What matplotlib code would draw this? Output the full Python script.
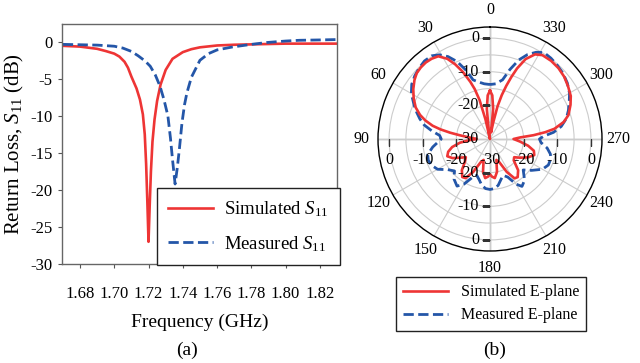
import numpy as np
import matplotlib
matplotlib.use('Agg')
import matplotlib.pyplot as plt

# ---------------- data: (a) return loss ----------------
freq_sim = [1.670, 1.680, 1.690, 1.695, 1.700, 1.703, 1.706, 1.708, 1.710, 1.713,
            1.715, 1.7167, 1.7178, 1.7186, 1.7193, 1.7200, 1.7207, 1.7214, 1.7223,
            1.7235, 1.7250, 1.7270, 1.7300, 1.7340, 1.7400, 1.745, 1.750, 1.760,
            1.770, 1.780, 1.790, 1.800, 1.810, 1.820, 1.830]
s11_sim = [-0.55, -0.65, -0.95, -1.25, -1.6, -2.0, -2.7, -3.5, -4.7, -6.3,
           -7.8, -9.8, -12.5, -16.5, -21.5, -27.0, -22.0, -17.5, -13.5,
           -10.5, -8.0, -5.8, -3.8, -2.3, -1.4, -1.0, -0.75, -0.5,
           -0.4, -0.35, -0.3, -0.25, -0.25, -0.25, -0.25]

freq_meas = [1.670, 1.680, 1.690, 1.700, 1.705, 1.710, 1.714, 1.718, 1.721, 1.724,
             1.7267, 1.729, 1.7313, 1.7328, 1.734, 1.7355, 1.7368, 1.738, 1.7395,
             1.741, 1.7424, 1.745, 1.750, 1.755, 1.760, 1.769, 1.780, 1.789,
             1.800, 1.808, 1.820, 1.830]
s11_meas = [-0.35, -0.4, -0.45, -0.6, -0.85, -1.3, -1.9, -2.6, -3.3, -4.5,
            -6.0, -7.8, -10.0, -13.0, -15.9, -19.2, -17.0, -14.5, -11.0,
            -8.5, -6.9, -4.8, -2.5, -1.6, -1.1, -0.7, -0.35, -0.1,
            0.1, 0.2, 0.25, 0.3]

x_ticks = [1.68, 1.70, 1.72, 1.74, 1.76, 1.78, 1.80, 1.82]
y_ticks = [0, -5, -10, -15, -20, -25, -30]

# ---------------- data: (b) E-plane pattern ----------------
theta_sim = [0, 3, 6, 9, 11, 13, 15, 17, 19, 22, 25, 28, 32, 36, 40, 44, 48, 52, 57,
             62, 67, 71, 74, 77, 79, 81, 83, 86, 90, 93, 97, 102, 107, 112, 117, 122,
             127, 132, 138, 144, 148, 153, 158, 163, 168, 173, 177, 180, 183, 187,
             192, 197, 202, 207, 212, 216, 222, 228, 233, 238, 244, 250, 255, 260,
             265, 270, 273, 275, 277, 279, 283, 287, 293, 298, 304, 310, 316, 322,
             328, 332, 336, 339, 341, 343, 345, 347, 349, 351, 354, 357, 360]
e_sim = [-15.6, -17, -21, -28, -30, -24, -18, -14.5, -12, -8.5, -5.5, -3, -1.0, -0.5,
         -0.3, -0.4, -0.7, -1.5, -2.8, -4.3, -6, -8, -10, -12.5, -15, -18, -21, -24,
         -26, -24, -21, -18.5, -17, -16.3, -17.5, -19.5, -21, -20, -17.5, -16,
         -16.3, -19, -22.5, -23.5, -20, -18.3, -18.8, -19.5, -18.8, -18.3, -20,
         -23.5, -22.5, -19, -16.2, -16, -17.5, -20.5, -21, -19.5, -17.5, -16,
         -16.5, -18.5, -21, -23, -21, -17, -13.5, -10.6, -7.5, -5.6, -4.0, -2.8,
         -2.0, -1.2, -0.7, -0.5, -0.6, -1.5, -4.0, -7.5, -10.5, -13.5, -16.5,
         -20, -25, -28, -21, -17, -15.6]

theta_meas = [0, 6, 12, 16, 19, 23, 27, 31, 35, 40, 45, 50, 55, 60, 66, 70, 74, 78,
              82, 86, 90, 94, 98, 104, 109, 114, 120, 126, 132, 138, 145, 150, 155,
              160, 165, 170, 175, 180, 185, 190, 195, 200, 205, 210, 214, 220, 227,
              233, 240, 246, 252, 256, 261, 266, 270, 273, 276, 280, 285, 290, 295,
              300, 306, 312, 318, 323, 328, 332, 336, 340, 344, 348, 354, 360]
e_meas = [-13.8, -13.5, -12.6, -11.7, -8.5, -5, -2.5, -0.8, 0.2, 0.3, -0.2, -0.8,
          -1.6, -3.0, -5.3, -6.8, -8.3, -10, -12.5, -15, -15.5, -14.3, -12.8, -10.9,
          -10.6, -10.9, -12, -14.5, -15.8, -14, -12.9, -14.5, -17.3, -18.5, -17.5,
          -16, -15.2, -15, -15.2, -16, -17.5, -18.5, -17.5, -14.5, -13, -14, -16.5,
          -14.5, -12, -11, -11, -11.5, -12.8, -14.8, -15.3, -14, -11, -8.5, -6.5,
          -5.2, -4, -2.7, -1.6, -0.8, -0.3, 0.1, 0.3, -0.8, -2.5, -5, -8.5, -12,
          -13.5, -13.8]

theta_labels = ['0', '30', '60', '90', '120', '150', '180', '210', '240', '270', '300', '330']
r_label_vals = [0, -10, -20, -30]

# ---------------- style ----------------
plt.rcParams['font.family'] = ['Liberation Serif', 'DejaVu Serif']
plt.rcParams['mathtext.fontset'] = 'custom'
plt.rcParams['mathtext.rm'] = 'Liberation Serif'
plt.rcParams['mathtext.it'] = 'Liberation Serif:italic'
plt.rcParams['axes.unicode_minus'] = False

RED = '#EE3535'
BLUE = '#2456A8'

fig = plt.figure(figsize=(6.4, 3.63), dpi=100)

# ---------------- (a) ----------------
ax = fig.add_axes([62/640, 1-264/363, (337-62)/640, (264-24)/363])
ax.plot(freq_sim, s11_sim, color=RED, lw=1.9, label=r'Simulated $\mathit{S}_{\mathit{11}}$')
ax.plot(freq_meas, s11_meas, color=BLUE, lw=2.0, ls='--', label=r'Measured $\mathit{S}_{\mathit{11}}$')
ax.set_xlim(1.6695, 1.83)
ax.set_ylim(-30, 2.4)
ax.set_xticks(x_ticks)
ax.set_xticklabels([f'{v:.2f}' for v in x_ticks])
ax.set_yticks(y_ticks)
ax.set_yticklabels([str(v) for v in y_ticks])
ax.tick_params(axis='x', length=3, pad=13, labelsize=12, color='#555555')
ax.tick_params(axis='y', length=3, pad=4, labelsize=12, color='#555555')
for s in ax.spines.values():
    s.set_color('#666666')
    s.set_linewidth(1.0)
ax.set_xlabel('Frequency (GHz)', fontsize=14, labelpad=8)
ax.set_ylabel(r'Return Loss, $\mathit{S}_{\mathit{11}}$ (dB)', fontsize=15, labelpad=3)
leg = fig.legend(loc='lower right', bbox_to_anchor=(340/640, 1-265/363), fontsize=13.5,
                 frameon=True, fancybox=False, edgecolor='#222222', framealpha=1,
                 handlelength=2.4, borderaxespad=0, borderpad=0.6, labelspacing=0.8,
                 handletextpad=0.6)
leg.get_frame().set_linewidth(1.0)

# ---------------- (b) ----------------
rmax = 3.3
cy = 139
pax = fig.add_axes([(490-112)/640, 1-(cy+112)/363, 224/640, 224/363], projection='polar')
pax.set_theta_zero_location('N')
pax.set_theta_direction(1)
pax.set_rlim(-30, rmax)
pax.set_yticks([-25, -20, -15, -10, -5, 0])
pax.set_yticklabels([])
pax.tick_params(axis='y', length=0)
pax.set_xticks(np.deg2rad(np.arange(0, 360, 30)))
pax.set_xticklabels(theta_labels, fontsize=11.5)
pax.tick_params(axis='x', pad=2, direction='inout', length=6, color='black')
pax.grid(True, color='#cccccc', lw=0.8)
pax.spines['polar'].set_color('black')
pax.spines['polar'].set_linewidth(1.0)

# main axes lines
for ang in [0, 90, 180, 270]:
    pax.plot([np.deg2rad(ang)] * 2, [-30, rmax], color='#999999', lw=1.0, zorder=1)

l_sim, = pax.plot(np.deg2rad(theta_sim), e_sim, color=RED, lw=1.9,
                  label='Simulated E-plane', zorder=4)
l_meas, = pax.plot(np.deg2rad(theta_meas), e_meas, color=BLUE, lw=2.0, ls='--',
                   label='Measured E-plane', zorder=3)

# radial labels and tick marks
fs_r = 11.5
for v in r_label_vals:
    pax.annotate(str(v), xy=(0, v), xytext=(-8, 0), textcoords='offset points',
                 ha='right', va='center', fontsize=fs_r, zorder=5)
    if v != -30:
        for ang in (90, 270):
            pax.annotate(str(v), xy=(np.deg2rad(ang), v), xytext=(0, -15),
                         textcoords='offset points', ha='center', va='center',
                         fontsize=fs_r, zorder=5)
        pax.annotate(str(v), xy=(np.pi, v), xytext=(-8, 0), textcoords='offset points',
                     ha='right', va='center', fontsize=fs_r, zorder=5)
        pax.plot([0], [v], marker=0, ms=6, color='#333333', mew=1, zorder=5)
        pax.plot([np.pi], [v], marker=0, ms=6, color='#333333', mew=1, zorder=5)
        pax.plot([np.pi / 2, 3 * np.pi / 2], [v, v], ls='none', marker=3, ms=5,
                 color='#333333', mew=1, zorder=5)
    else:
        pax.annotate(str(v), xy=(np.pi / 2, v), xytext=(0, -15),
                     textcoords='offset points', ha='center', va='center',
                     fontsize=fs_r, zorder=5)

leg2 = fig.legend(handles=[l_sim, l_meas], loc='upper center',
                  bbox_to_anchor=(491/640, 1-277/363), fontsize=11.5, frameon=True,
                  fancybox=False, edgecolor='#222222', framealpha=1, handlelength=2.8,
                  borderaxespad=0, borderpad=0.45, labelspacing=0.45, handletextpad=0.8)
leg2.get_frame().set_linewidth(1.0)

fig.text(187/640, 1-350/363, '(a)', ha='center', va='center', fontsize=14)
fig.text(495/640, 1-350/363, '(b)', ha='center', va='center', fontsize=14)

fig.savefig('out.png', dpi=100)
